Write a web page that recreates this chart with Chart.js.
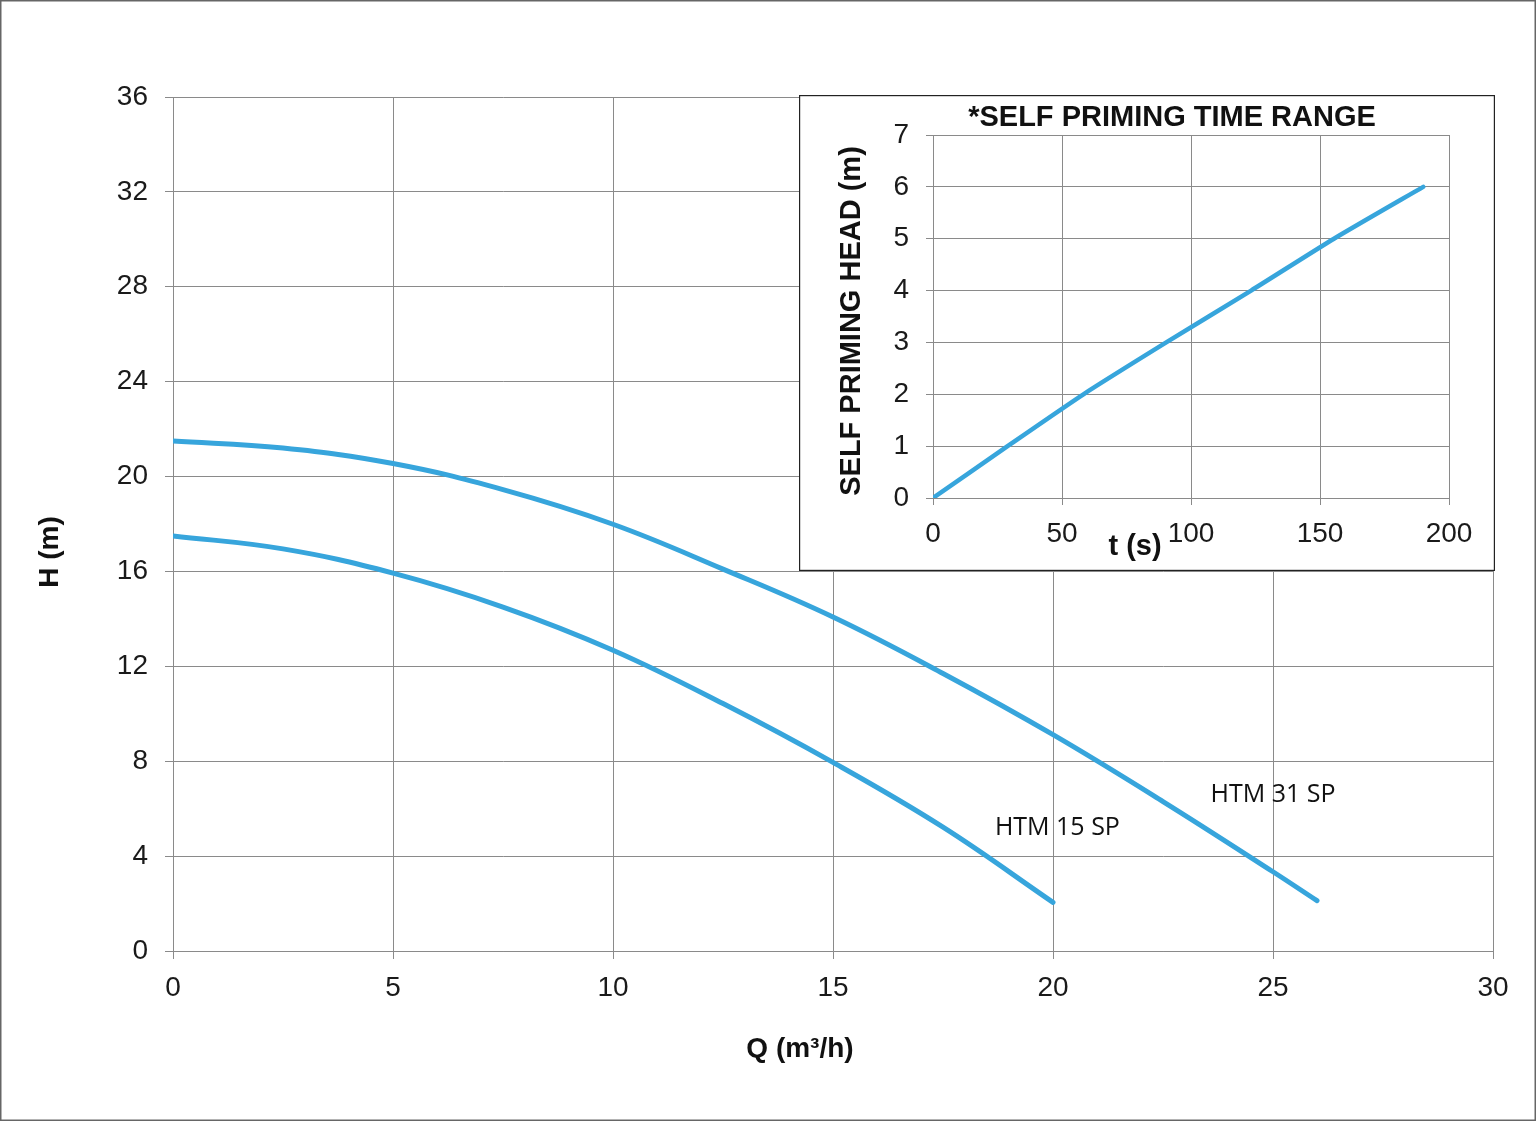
<!DOCTYPE html>
<html>
<head>
<meta charset="utf-8">
<script src="https://cdn.jsdelivr.net/npm/chart.js@4/dist/chart.umd.min.js"></script>
<style>
    html, body { margin: 0; padding: 0; background: #fff; }
    #wrap { position: relative; width: 1536px; height: 1121px; }
    #mainChart { position: absolute; left: 0; top: 0; }
    #insetChart { position: absolute; left: 799px; top: 95px; background: #fff; }
</style>
</head>
<body>
<div id="wrap">
    <canvas id="mainChart" width="1536" height="1121"></canvas>
    <canvas id="insetChart" width="696" height="476"></canvas>
</div>
<script>
// Pump curves, Q (m3/h) vs H (m)
const Q_15 = [0, 2.5, 5, 7.5, 10, 12.5, 15, 17.5, 20];
const H_15 = [17.5, 16.95, 15.93, 14.5, 12.68, 10.43, 7.95, 5.22, 2.05];
const Q_31 = [0, 2.5, 5, 7.5, 10, 12.5, 15, 17.5, 20, 22.5, 25, 26];
const H_31 = [21.5, 21.2, 20.55, 19.45, 17.99, 16.1, 14.08, 11.7, 9.12, 6.3, 3.34, 2.12];

// curve labels, placed in data units
const CURVE_NAMES = ['HTM 15 SP', 'HTM 31 SP'];
const NAME_Q = [20.1, 25.0];
const NAME_H = [5.2, 6.6];

// Self priming inset, t (s) vs head (m)
const T_S = [0, 28.9, 58.3, 90.4, 123.3, 155.4, 190];
const PRIME_H = [0, 1, 2, 3, 4, 5, 6];

const BLUE = '#37a5dc';
const GRID = '#8a8a8a';
const TICK_FONT = { family: "'Liberation Sans', Arial, sans-serif", size: 28 };
const BOLD_MAIN = "bold 28px 'Liberation Sans', Arial, sans-serif";
const BOLD_INSET = "bold 29px 'Liberation Sans', Arial, sans-serif";

Chart.defaults.color = '#1a1a1a';
Chart.defaults.font.family = "'Liberation Sans', Arial, sans-serif";

const toPoints = (xs, ys) => xs.map((x, i) => ({ x: x, y: ys[i] }));

const mainExtras = {
    id: 'mainExtras',
    afterDatasetsDraw(chart) {
        const { ctx, scales: { x, y } } = chart;
        ctx.save();
        ctx.fillStyle = '#111';
        ctx.font = "25px 'Open Sans', sans-serif";
        ctx.textAlign = 'center';
        ctx.textBaseline = 'middle';
        CURVE_NAMES.forEach((name, i) => {
            ctx.fillText(name, x.getPixelForValue(NAME_Q[i]), y.getPixelForValue(NAME_H[i]));
        });
        // axis titles
        ctx.font = BOLD_MAIN;
        ctx.fillText('Q (m\u00b3/h)', 800, 1049);
        ctx.translate(50, 552);
        ctx.rotate(-Math.PI / 2);
        ctx.fillText('H (m)', 0, 0);
        ctx.restore();
        // outer frame
        ctx.save();
        ctx.strokeStyle = '#666';
        ctx.lineWidth = 1.5;
        ctx.strokeRect(0.75, 0.75, chart.width - 1.5, chart.height - 1.5);
        ctx.restore();
    }
};

const insetExtras = {
    id: 'insetExtras',
    afterDraw(chart) {
        const { ctx } = chart;
        ctx.save();
        ctx.fillStyle = '#111';
        ctx.textAlign = 'center';
        ctx.textBaseline = 'middle';
        ctx.font = BOLD_INSET;
        ctx.fillText('*SELF PRIMING TIME RANGE', 373, 23);
        ctx.fillText('t (s)', 336, 452);
        ctx.translate(53, 226);
        ctx.rotate(-Math.PI / 2);
        ctx.fillText('SELF PRIMING HEAD (m)', 0, 0);
        ctx.restore();
        ctx.save();
        ctx.strokeStyle = '#222';
        ctx.lineWidth = 1.2;
        ctx.strokeRect(0.6, 0.6, chart.width - 1.2, chart.height - 1.2);
        ctx.restore();
    }
};

const lineStyle = {
    borderColor: BLUE,
    backgroundColor: BLUE,
    borderWidth: 5,
    pointRadius: 0,
    tension: 0.4,
    borderCapStyle: 'round',
    fill: false
};

new Chart(document.getElementById('mainChart').getContext('2d'), {
    type: 'line',
    data: {
        datasets: [
            Object.assign({ label: CURVE_NAMES[0], data: toPoints(Q_15, H_15) }, lineStyle),
            Object.assign({ label: CURVE_NAMES[1], data: toPoints(Q_31, H_31) }, lineStyle)
        ]
    },
    options: {
        responsive: false,
        animation: false,
        devicePixelRatio: 1,
        layout: { padding: { left: 0, top: 97, right: 43, bottom: 0 } },
        plugins: { legend: { display: false }, tooltip: { enabled: false } },
        scales: {
            x: {
                type: 'linear', min: 0, max: 30,
                ticks: { stepSize: 5, font: TICK_FONT, padding: 12, color: '#1a1a1a' },
                grid: { color: GRID, lineWidth: 1, tickLength: 8 },
                border: { color: GRID },
                afterFit: s => { s.height = 170; }
            },
            y: {
                min: 0, max: 36,
                ticks: { stepSize: 4, font: TICK_FONT, padding: 17, color: '#1a1a1a' },
                grid: { color: GRID, lineWidth: 1, tickLength: 8 },
                border: { color: GRID },
                afterFit: s => { s.width = 173; }
            }
        }
    },
    plugins: [mainExtras]
});

new Chart(document.getElementById('insetChart').getContext('2d'), {
    type: 'line',
    data: {
        datasets: [
            Object.assign({ label: 'Self priming', data: toPoints(T_S, PRIME_H) }, lineStyle, { borderWidth: 4.5, tension: 0.2 })
        ]
    },
    options: {
        responsive: false,
        animation: false,
        devicePixelRatio: 1,
        layout: { padding: { left: 0, top: 40, right: 46, bottom: 0 } },
        plugins: { legend: { display: false }, tooltip: { enabled: false } },
        scales: {
            x: {
                type: 'linear', min: 0, max: 200,
                ticks: { stepSize: 50, font: TICK_FONT, padding: 12, color: '#1a1a1a' },
                grid: { color: GRID, lineWidth: 1, tickLength: 7 },
                border: { color: GRID },
                afterFit: s => { s.height = 73; }
            },
            y: {
                min: 0, max: 7,
                ticks: { stepSize: 1, font: TICK_FONT, padding: 17, color: '#1a1a1a' },
                grid: { color: GRID, lineWidth: 1, tickLength: 7 },
                border: { color: GRID },
                afterFit: s => { s.width = 134; }
            }
        }
    },
    plugins: [insetExtras]
});
</script>
</body>
</html>
